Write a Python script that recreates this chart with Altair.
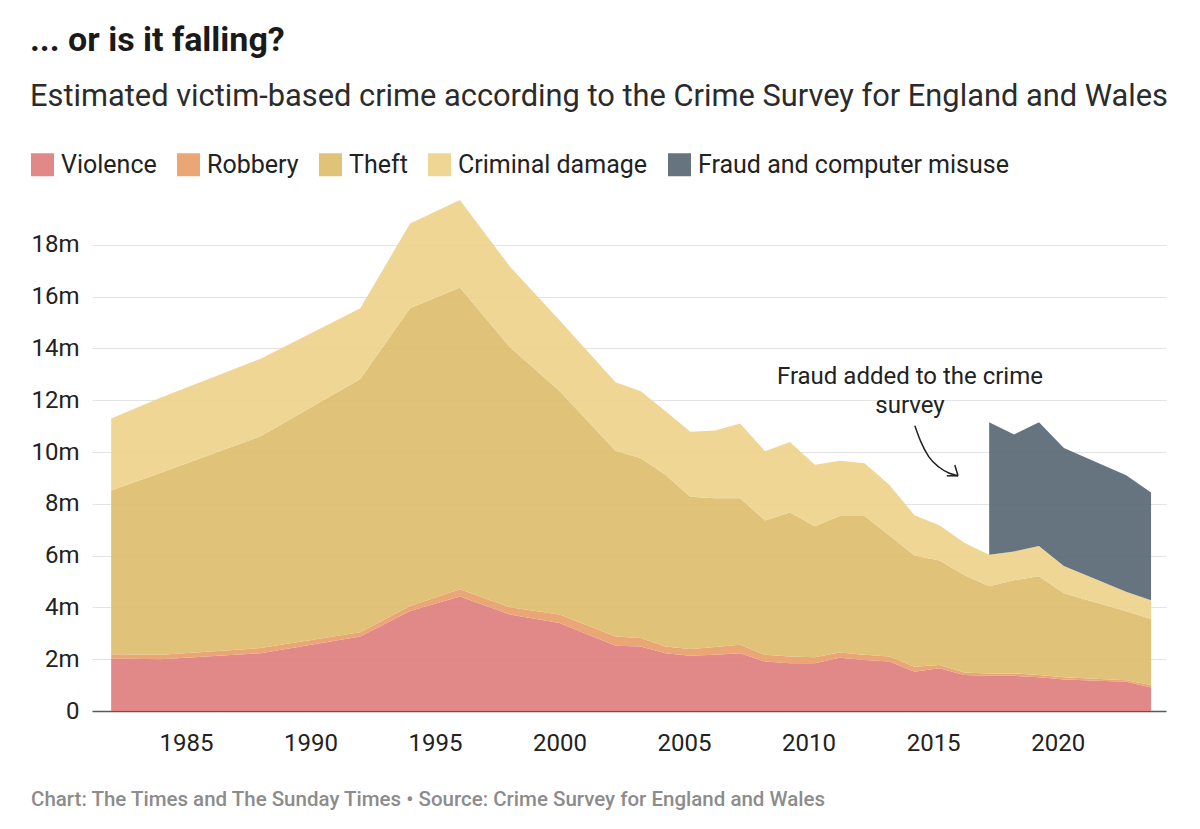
import altair as alt
import pandas as pd

# Survey periods, positioned by the end of each survey year
years = [1982, 1984, 1988, 1992, 1994, 1996, 1998, 2000,
         2002.25, 2003.25, 2004.25, 2005.25, 2006.25, 2007.25, 2008.25,
         2009.25, 2010.25, 2011.25, 2012.25, 2013.25, 2014.25, 2015.25,
         2016.25, 2017.25, 2018.25, 2019.25, 2020.25, 2022.75, 2023.75]

# Estimated incidents, millions
violence = [2.03, 2.00, 2.23, 2.88, 3.86, 4.42, 3.73, 3.40,
            2.52, 2.49, 2.23, 2.13, 2.17, 2.23, 1.91, 1.84, 1.84, 2.06, 1.97,
            1.91, 1.52, 1.65, 1.39, 1.36, 1.36, 1.30, 1.22, 1.13, 0.91]
robbery = [0.16, 0.17, 0.20, 0.16, 0.19, 0.28, 0.28, 0.33,
           0.36, 0.33, 0.26, 0.26, 0.30, 0.33, 0.26, 0.26, 0.24, 0.20, 0.20,
           0.19, 0.19, 0.13, 0.10, 0.09, 0.09, 0.09, 0.08, 0.06, 0.09]
theft = [6.32, 7.03, 8.18, 9.78, 11.50, 11.65, 10.04, 8.63,
         7.17, 6.95, 6.63, 5.88, 5.74, 5.65, 5.19, 5.56, 5.05, 5.27, 5.36,
         4.68, 4.29, 4.03, 3.76, 3.37, 3.60, 3.81, 3.25, 2.66, 2.55]
criminal_damage = [2.78, 2.90, 2.99, 2.73, 3.27, 3.38, 3.12, 2.73,
                   2.64, 2.59, 2.46, 2.51, 2.62, 2.89, 2.67, 2.73, 2.38, 2.13, 2.04,
                   1.95, 1.56, 1.36, 1.25, 1.21, 1.11, 1.17, 1.05, 0.75, 0.73]
fraud = [None] * 23 + [5.12, 4.52, 4.78, 4.55, 4.50, 4.16]

series_names = ["Violence", "Robbery", "Theft", "Criminal damage",
                "Fraud and computer misuse"]
series_colors = ["#de7b7b", "#e99c67", "#ddbd69", "#eed18a", "#546571"]

year_ticks = [1985, 1990, 1995, 2000, 2005, 2010, 2015, 2020]
value_ticks = [0, 2, 4, 6, 8, 10, 12, 14, 16, 18]

# Annotation: label anchor and the curved pointer (year, millions)
note_text = "Fraud added to the crime\nsurvey"
note_pos = (2014.07, 12.63)
pointer_year = [2014.27, 2014.51, 2014.83, 2015.23, 2015.63, 2016.00]
pointer_value = [11.01, 10.39, 9.81, 9.42, 9.19, 9.08]
head_year = [2015.55, 2015.87]
head_value = [9.08, 9.50]

footer = ("Chart: The Times and The Sunday Times \u2022 "
          "Source: Crime Survey for England and Wales")

FONT = "Roboto"
W, H = 1074, 518

rows = []
for i, yr in enumerate(years):
    for k, vals in enumerate([violence, robbery, theft, criminal_damage, fraud]):
        if vals[i] is None:
            continue
        rows.append({"year": yr, "crime": series_names[k], "order": k,
                     "value": vals[i]})
df = pd.DataFrame(rows)

x_scale = alt.Scale(domain=[1981.23, 2024.35], nice=False, zero=False)
y_scale = alt.Scale(domain=[0, 20], nice=False, zero=True)

areas = alt.Chart(df).transform_stack(
    stack="value",
    groupby=["year"],
    as_=["lower", "upper"],
    sort=[alt.SortField(field="order", order="ascending")],
).mark_area(opacity=0.9).encode(
    x=alt.X("year:Q", scale=x_scale, title=None,
            axis=alt.Axis(values=year_ticks, format="d", ticks=False,
                          grid=False, domainColor="#5a5a5a", domainWidth=1.5,
                          labelFontSize=24, labelColor="#222222",
                          labelPadding=20, labelFont=FONT)),
    y=alt.Y("upper:Q", scale=y_scale, title=None,
            axis=alt.Axis(values=value_ticks, ticks=False, domain=False,
                          gridColor="#e3e3e3", gridWidth=1,
                          labelFontSize=24, labelColor="#222222",
                          labelPadding=13, labelFont=FONT,
                          labelExpr="datum.value == 0 ? '0' : datum.value + 'm'")),
    y2="lower:Q",
    color=alt.Color("crime:N",
                    scale=alt.Scale(domain=series_names, range=series_colors),
                    legend=alt.Legend(orient="none", legendX=-62, legendY=-41,
                                      direction="horizontal", title=None,
                                      symbolType="square", symbolSize=529,
                                      symbolStrokeWidth=0, symbolOpacity=0.9,
                                      labelFontSize=25, labelFont=FONT,
                                      labelColor="#222222", labelLimit=600,
                                      columnPadding=19, labelOffset=6,
                                      padding=0)),
)

note = alt.Chart(pd.DataFrame({"x": [note_pos[0]], "y": [note_pos[1]],
                               "t": [note_text]})).mark_text(
    font=FONT, fontSize=24, color="#222222", align="center",
    baseline="alphabetic", lineBreak="\n", lineHeight=29,
).encode(
    x=alt.X("x:Q", scale=x_scale, title=None),
    y=alt.Y("y:Q", scale=y_scale, title=None),
    text="t:N",
)

pointer = alt.Chart(pd.DataFrame({"x": pointer_year, "y": pointer_value,
                                  "i": list(range(len(pointer_year)))})).mark_line(
    color="#222222", strokeWidth=1.5, interpolate="monotone",
).encode(
    x=alt.X("x:Q", scale=x_scale, title=None),
    y=alt.Y("y:Q", scale=y_scale, title=None),
    order="i:Q",
)

head = alt.Chart(pd.DataFrame({"x": head_year, "y": head_value,
                               "x2": [pointer_year[-1]] * 2,
                               "y2": [pointer_value[-1]] * 2})).mark_rule(
    color="#222222", strokeWidth=1.5,
).encode(
    x=alt.X("x:Q", scale=x_scale, title=None),
    y=alt.Y("y:Q", scale=y_scale, title=None),
    x2="x2:Q",
    y2="y2:Q",
)

credit = alt.Chart(pd.DataFrame({"t": [footer]})).mark_text(
    font=FONT, fontSize=20.5, fontWeight=500, color="#8c8c8c",
    align="left", baseline="middle",
).encode(
    x=alt.value(-61),
    y=alt.value(H + 89),
    text="t:N",
)

chart = alt.layer(areas, note, pointer, head, credit).properties(
    width=W,
    height=H,
    padding={"left": 30, "top": 24, "right": 10, "bottom": 10},
    background="white",
    title=alt.TitleParams(
        text="... or is it falling?",
        subtitle="Estimated victim-based crime according to the Crime Survey for England and Wales",
        anchor="start", frame="bounds", font=FONT, fontSize=34,
        fontWeight="bold", color="#1a1a1a",
        subtitleFont=FONT, subtitleFontSize=30.8, subtitleColor="#2b2b2b",
        subtitlePadding=24, offset=40,
    ),
).configure_view(stroke=None)

chart.save("out.html", embed_options={"renderer": "svg", "actions": False})
